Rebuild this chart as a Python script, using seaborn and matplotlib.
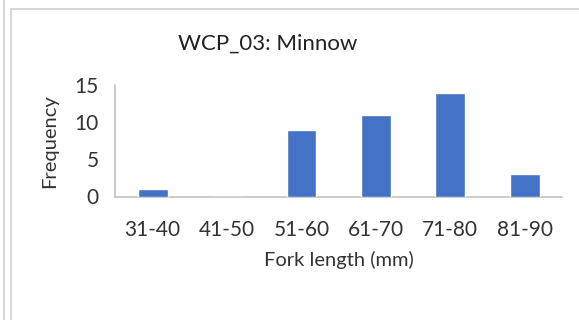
import matplotlib
matplotlib.use("Agg")
import matplotlib.pyplot as plt
import seaborn as sns
import pandas as pd
from matplotlib.lines import Line2D

# Fork length bins and counts
bins = ["31-40", "41-50", "51-60", "61-70", "71-80", "81-90"]
counts = [1, 0, 9, 11, 14, 3]
y_ticks = [0, 5, 10, 15]

title = "WCP_03: Minnow"
x_label = "Fork length (mm)"
y_label = "Frequency"

sns.set_theme(style="white")
plt.rcParams["font.family"] = ["Lato", "DejaVu Sans"]

df = pd.DataFrame({"bin": bins, "count": counts})

W, H = 579, 320
fig = plt.figure(figsize=(W / 100, H / 100), dpi=100)
ax_l, ax_r, ax_t, ax_b = 115.5, 562, 85.5, 196.5
ax = fig.add_axes([ax_l / W, 1 - ax_b / H, (ax_r - ax_l) / W, (ax_b - ax_t) / H])

sns.barplot(data=df, x="bin", y="count", color="#4472C4", width=0.4,
            saturation=1, ax=ax, zorder=3)

ax.set_xlim(-0.5, len(bins) - 0.5)
ax.set_ylim(0, 15)
ax.set_yticks(y_ticks)

grey = "#bfbfbf"
text_col = "#333333"
for side in ["top", "right"]:
    ax.spines[side].set_visible(False)
for side in ["left", "bottom"]:
    ax.spines[side].set_color(grey)
    ax.spines[side].set_linewidth(1.1)

# category boundaries carry the x tick marks
ax.set_xticks(range(len(bins)))
ax.set_xticklabels(bins)
ax.set_xticks([i - 0.5 for i in range(len(bins) + 1)], minor=True)
ax.tick_params(axis="x", which="major", length=0, pad=17, labelsize=15)
ax.tick_params(axis="x", which="minor", length=6, width=1.1, color=grey, direction="out")
ax.tick_params(axis="y", length=6, width=1.1, color=grey, direction="out",
               pad=6, labelsize=15)
ax.tick_params(axis="both", labelcolor=text_col)

ax.set_xlabel(x_label, fontsize=14.5, color=text_col)
ax.set_ylabel(y_label, fontsize=14.5, color=text_col)

# place axis titles in pixel terms
ax.xaxis.set_label_coords(0.5, -(260 - ax_b) / (ax_b - ax_t), transform=ax.transAxes)
ax.xaxis.label.set_va("center")
ax.yaxis.set_label_coords(-(ax_l - 50) / (ax_r - ax_l), 0.5, transform=ax.transAxes)
ax.yaxis.label.set_va("center")

fig.text(268 / W, 1 - 44 / H, title, ha="center", va="center",
         fontsize=16, color="#222222")

# chart frame edges
frame = "#d4d4d4"
fig.add_artist(Line2D([3.5 / W, 3.5 / W], [0, 1], color=frame, lw=1.3,
                      transform=fig.transFigure))
fig.add_artist(Line2D([10.5 / W, 10.5 / W], [0, 1 - 9 / H], color=frame, lw=1.3,
                      transform=fig.transFigure))
fig.add_artist(Line2D([10.5 / W, 1], [1 - 9 / H, 1 - 9 / H], color=frame, lw=1.3,
                      transform=fig.transFigure))

fig.savefig("out.png", dpi=100)
